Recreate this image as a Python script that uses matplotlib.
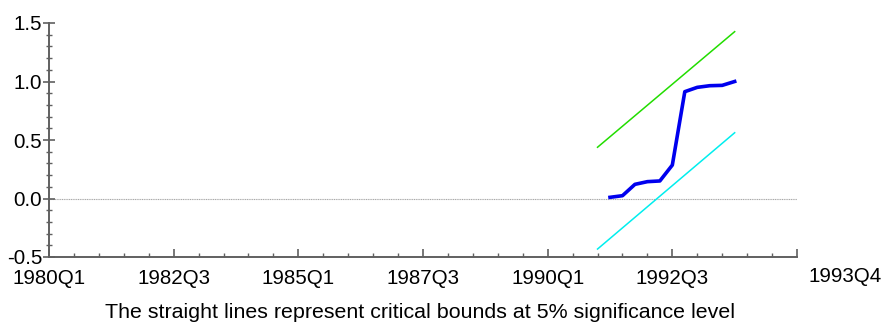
import matplotlib
matplotlib.use("Agg")
import matplotlib.pyplot as plt
from matplotlib import font_manager as fm
from matplotlib.ticker import MultipleLocator, FixedLocator

names = {f.name for f in fm.fontManager.ttflist}
FONT = "Liberation Sans Narrow" if "Liberation Sans Narrow" in names else "Liberation Sans"
NARROW = FONT == "Liberation Sans Narrow"
plt.rcParams["font.family"] = [FONT, "DejaVu Sans"]

# Quarter index: 0 = 1980Q1
tick_pos = [0, 10, 20, 30, 40, 50, 60]
tick_labels = ["1980Q1", "1982Q3", "1985Q1", "1987Q3", "1990Q1", "1992Q3", ""]
end_label = "1993Q4"

# CUSUM of squares, 1991Q2 .. 1993Q4
cusum_q = list(range(45, 56))
cusum_sq = [0.010, 0.024, 0.121, 0.144, 0.150, 0.286, 0.913, 0.950, 0.964, 0.967, 1.000]

# Critical bounds (5%), 1991Q1 .. 1993Q4
bound_q = [44, 55]
upper = [0.438, 1.426]
lower = [-0.432, 0.562]

fs = 17.5 if NARROW else 14.8
fs_cap = 18.5 if NARROW else 15.4

fig = plt.figure(figsize=(8.83, 3.22), dpi=100)
ax = fig.add_axes([49/883, 65/322, 748/883, 234/322])

ax.plot([0, 60], [0, 0], color="#a8a8a8", lw=0.8, ls=(0, (1, 0.6)), zorder=1)
ax.plot(bound_q, upper, color="#22dd00", lw=1.1, zorder=2)
ax.plot(bound_q, lower, color="#00eeee", lw=1.1, zorder=2)
ax.plot(cusum_q, cusum_sq, color="#0000ee", lw=2.6, zorder=3, solid_joinstyle="round")

ax.set_xlim(0, 60)
ax.set_ylim(-0.5, 1.5)
for s in ["top", "right"]:
    ax.spines[s].set_visible(False)
for s in ["left", "bottom"]:
    ax.spines[s].set_color("#606060")
    ax.spines[s].set_linewidth(1.4)

ax.xaxis.set_major_locator(FixedLocator(tick_pos))
ax.set_xticklabels(tick_labels)
ax.xaxis.set_minor_locator(MultipleLocator(2))
ax.yaxis.set_major_locator(MultipleLocator(0.5))
ax.yaxis.set_minor_locator(MultipleLocator(0.1))
ax.set_yticks([-0.5, 0.0, 0.5, 1.0, 1.5])
ax.set_yticklabels(["-0.5", "0.0", "0.5", "1.0", "1.5"])

ax.tick_params(axis="x", which="major", direction="in", length=6, width=1.2,
               color="#606060", labelsize=fs, pad=9)
ax.tick_params(axis="x", which="minor", direction="in", length=3, width=1.0,
               color="#606060")
ax.tick_params(axis="y", which="major", direction="inout", length=8, width=1.2,
               color="#606060", labelsize=fs, pad=1)
ax.tick_params(axis="y", which="minor", direction="inout", length=5, width=1.0,
               color="#606060")

ax.annotate(end_label, xy=(1, 0), xycoords="axes fraction", xytext=(48, -10),
            textcoords="offset pixels", ha="center", va="top", fontsize=fs)

fig.text(420/883, 1 - 318/322, "The straight lines represent critical bounds at 5% significance level",
         ha="center", va="baseline", fontsize=fs_cap)

fig.savefig("out.png", dpi=100)
